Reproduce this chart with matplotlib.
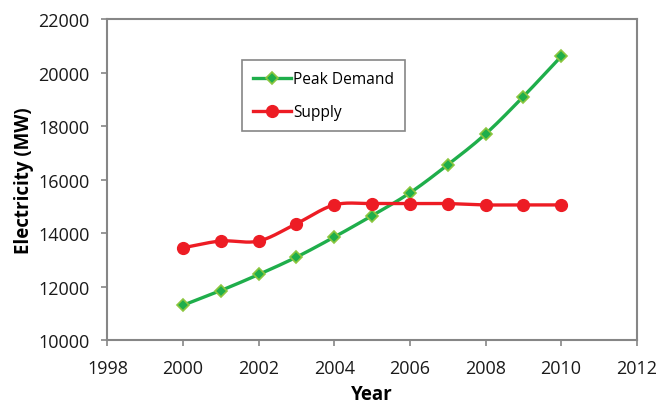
import matplotlib
matplotlib.use("Agg")
import matplotlib.pyplot as plt
import numpy as np

plt.rcParams['font.family'] = ['Open Sans', 'DejaVu Sans']

years = [2000, 2001, 2002, 2003, 2004, 2005, 2006, 2007, 2008, 2009, 2010]
peak_demand = [11300, 11850, 12450, 13100, 13850, 14650, 15500, 16550, 17700, 19100, 20600]
supply = [13450, 13700, 13700, 14350, 15050, 15100, 15100, 15100, 15050, 15050, 15050]

GREEN = '#1fae4b'
GREEN_EDGE = '#8cc63f'
RED = '#ed1c24'
GREY = '#868686'


def smooth(x, y, n=30):
    # Catmull-Rom curve through the points, like a spreadsheet "smoothed line"
    x = np.asarray(x, float)
    y = np.asarray(y, float)
    px = np.concatenate([[2 * x[0] - x[1]], x, [2 * x[-1] - x[-2]]])
    py = np.concatenate([[2 * y[0] - y[1]], y, [2 * y[-1] - y[-2]]])
    xs, ys = [], []
    t = np.linspace(0, 1, n, endpoint=False)
    for i in range(1, len(px) - 2):
        for p, out in ((px, xs), (py, ys)):
            p0, p1, p2, p3 = p[i - 1], p[i], p[i + 1], p[i + 2]
            b1 = p1 + (p2 - p0) / 6
            b2 = p2 - (p3 - p1) / 6
            out.extend((1 - t) ** 3 * p1 + 3 * (1 - t) ** 2 * t * b1
                       + 3 * (1 - t) * t ** 2 * b2 + t ** 3 * p2)
    xs.append(x[-1])
    ys.append(y[-1])
    return np.array(xs), np.array(ys)


fig = plt.figure(figsize=(6.59, 4.06), dpi=100)
ax = fig.add_axes([0.1631, 0.1601, 0.8031, 0.7906])

gx, gy = smooth(years, peak_demand)
ax.plot(gx, gy, color=GREEN, lw=2.4, zorder=2)
ax.plot(years, peak_demand, ls='none', marker='D', ms=6, mfc=GREEN,
        mec=GREEN_EDGE, mew=1.2, zorder=3)
rx, ry = smooth(years, supply)
ax.plot(rx, ry, color=RED, lw=2.4, zorder=2)
ax.plot(years, supply, ls='none', marker='o', ms=8.5, color=RED, zorder=3)

# legend proxies combine line and marker
h1, = ax.plot([], [], color=GREEN, lw=2.4, marker='D', ms=6, mfc=GREEN,
              mec=GREEN_EDGE, mew=1.2)
h2, = ax.plot([], [], color=RED, lw=2.4, marker='o', ms=8.5)
leg = ax.legend([h1, h2], ['Peak Demand', 'Supply'], loc='upper left',
                bbox_to_anchor=(0.2536, 0.872), fontsize=11.2,
                fancybox=False, framealpha=1, edgecolor=GREY,
                handlelength=2.45, handletextpad=0.15, labelspacing=1.1,
                borderpad=0.7, borderaxespad=0)
leg.get_frame().set_linewidth(1.2)

ax.set_xlim(1998, 2012)
ax.set_ylim(10000, 22000)
ax.set_xticks(np.arange(1998, 2013, 2))
ax.set_yticks(np.arange(10000, 22001, 2000))
ax.tick_params(labelsize=13, colors=GREY, labelcolor='#1a1a1a',
               length=4, width=1.2)
ax.tick_params(axis='x', pad=10)
ax.tick_params(axis='y', pad=9)
for s in ax.spines.values():
    s.set_color(GREY)
    s.set_linewidth(1.5)

ax.set_xlabel('Year', fontsize=13.5, fontweight='bold', labelpad=5)
ax.set_ylabel('Electricity (MW)', fontsize=13.5, fontweight='bold', labelpad=3)

fig.savefig('out.png', dpi=100)
